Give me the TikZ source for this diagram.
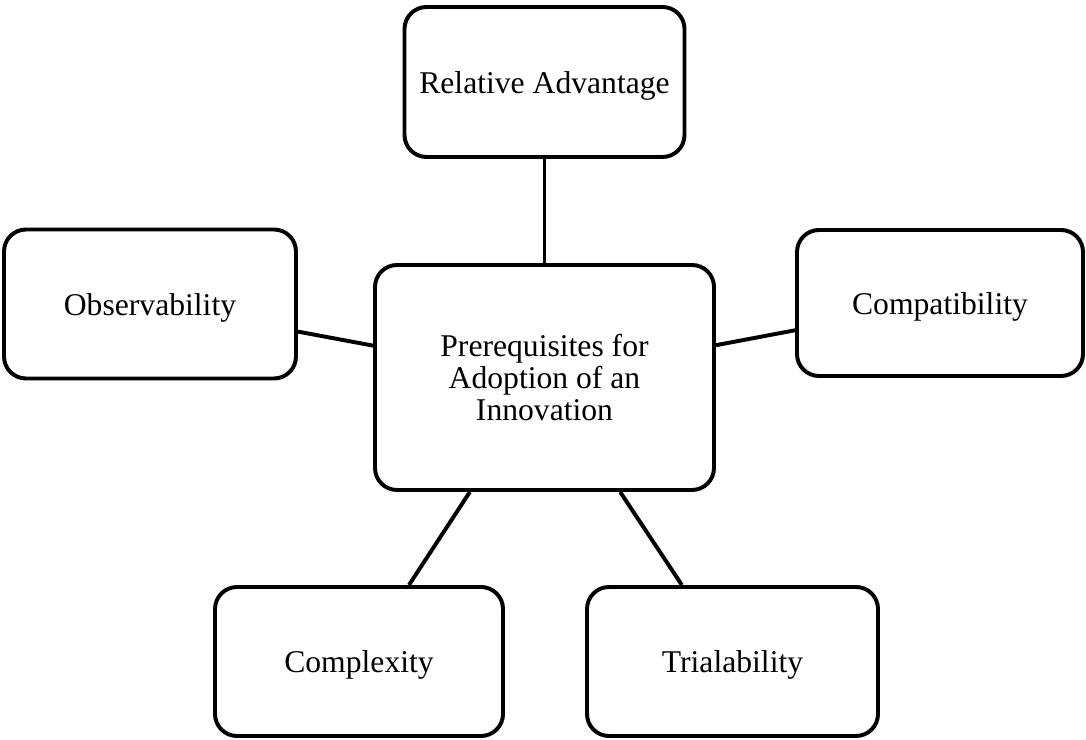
\documentclass[tikz,border=0pt]{standalone}
\usepackage{fontspec}
\setmainfont{Liberation Serif}
\tikzset{
  attr/.style={draw, line width=2.8pt, rounded corners=0.55cm, align=center,
    font=\fontsize{22.5}{23}\selectfont, inner sep=0pt},
  outer/.style={attr, text height=0.74cm, text depth=0.17cm},
  link/.style={line width=2.8pt}
}
\begin{document}
\begin{tikzpicture}[x=0.025cm,y=-0.025cm]
  \useasboundingbox (0,0) rectangle (1086,740);
  % centre node
  \node[attr, minimum width=339*0.025cm, minimum height=225*0.025cm] (pre) at (544.5,377.5)
    {Prerequisites for\\Adoption of an\\Innovation};
  % attribute nodes
  \node[outer, minimum width=280*0.025cm, minimum height=150*0.025cm] (rel) at (544.5,82) {Relative Advantage};
  \node[outer, minimum width=292*0.025cm, minimum height=149*0.025cm] (obs) at (150,304) {Observability};
  \node[outer, minimum width=286*0.025cm, minimum height=146*0.025cm] (compat) at (940,303) {Compatibility};
  \node[outer, minimum width=288*0.025cm, minimum height=149*0.025cm] (cplx) at (359,661.5) {Complexity};
  \node[outer, minimum width=291*0.025cm, minimum height=149*0.025cm] (trial) at (732.5,661.5) {Trialability};
  % connectors
  \draw[link] (rel) -- (pre);
  \draw[link] (obs) -- (pre);
  \draw[link] (compat) -- (pre);
  \draw[link] (cplx) -- (pre);
  \draw[link] (trial) -- (pre);
\end{tikzpicture}
\end{document}
